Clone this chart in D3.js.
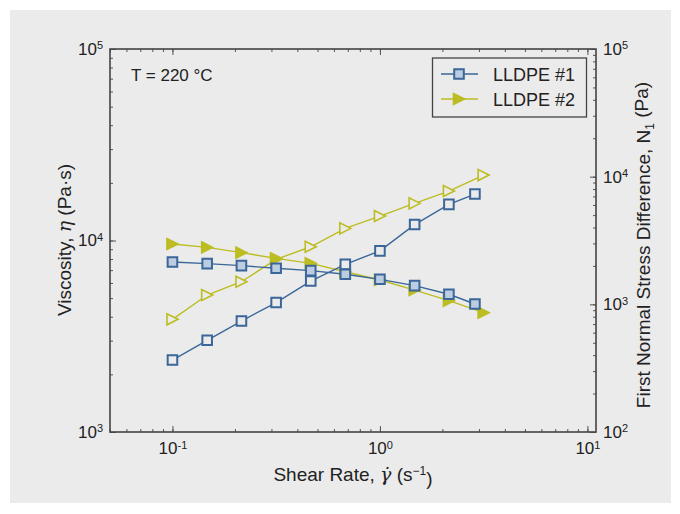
<!DOCTYPE html>
<html>
<head>
<meta charset="utf-8">
<script src="https://cdn.jsdelivr.net/npm/d3@7"></script>
<style>
  body { margin: 0; background: #fff; }
  svg { display: block; font-family: 'Liberation Sans', Arial, sans-serif; }
</style>
</head>
<body>
<svg id="chart" width="680" height="514"></svg>
<script>
// shear rates (1/s)
const rate1 = [0.1, 0.147, 0.215, 0.316, 0.464, 0.681, 1.0, 1.47, 2.15, 2.87]
const rate2 = [0.1, 0.147, 0.215, 0.316, 0.464, 0.681, 1.0, 1.47, 2.15, 3.16]
// viscosity (Pa.s), left axis
const eta1 = [7720, 7570, 7390, 7160, 6960, 6660, 6270, 5810, 5240, 4660]
const eta2 = [9590, 9210, 8640, 8070, 7600, 6870, 6220, 5510, 4850, 4200]
// first normal stress difference (Pa), right axis
const n1First = [366, 523, 740, 1033, 1522, 2057, 2624, 4215, 6069, 7306]
const n1Second = [763, 1183, 1503, 2251, 2825, 3937, 4914, 6180, 7713, 10290]

const seriesNames = ['LLDPE #1', 'LLDPE #2']
const xTicks = [0.1, 1, 10]
const yLeftTicks = [1e3, 1e4, 1e5]
const yRightTicks = [1e2, 1e3, 1e4, 1e5]

const BLUE = '#3b6699'
const BLUE_FILL = '#bccde2'
const YELLOW = '#bcbd22'
const BG = '#ebebeb'
const INK = '#222'

const svg = d3.select('#chart')
const plotLeft = 110, plotRight = 596, plotTop = 49, plotBottom = 432

svg.append('rect')
  .attr('x', 10).attr('y', 10)
  .attr('width', 661).attr('height', 493)
  .attr('fill', BG)

const x = d3.scaleLog().domain([0.05, 11]).range([plotLeft, plotRight])
const yL = d3.scaleLog().domain([1e3, 1e5]).range([plotBottom, plotTop])
const yR = d3.scaleLog().domain([1e2, 1e5]).range([plotBottom, plotTop])

// all 1..9 ticks inside a domain
function minorTicks(domain) {
  const out = []
  for (let e = -3; e <= 6; e++) {
    for (let m = 1; m <= 9; m++) {
      const v = m * Math.pow(10, e)
      if (v >= domain[0] * 0.999 && v <= domain[1] * 1.001) out.push(v)
    }
  }
  return out
}

function powerLabel(sel) {
  sel.each(function (d) {
    const t = d3.select(this)
    t.text(null)
    t.append('tspan').text('10')
    t.append('tspan')
      .attr('dy', '-0.5em')
      .attr('font-size', '11px')
      .text(Math.round(Math.log10(d)))
  })
}

function drawAxis(axisFn, scale, majors, transform, labelOpts) {
  const minor = svg.append('g')
    .attr('transform', transform)
    .call(axisFn(scale).tickValues(minorTicks(scale.domain())).tickSize(-3).tickFormat(''))
  minor.select('.domain').remove()
  minor.selectAll('line').attr('stroke', '#555')

  const major = svg.append('g')
    .attr('transform', transform)
    .call(axisFn(scale).tickValues(majors).tickSize(-6).tickPadding(labelOpts ? labelOpts.pad : 0)
      .tickFormat(labelOpts ? (d) => d : ''))
  major.select('.domain').remove()
  major.selectAll('line').attr('stroke', '#555')
  if (labelOpts) {
    major.selectAll('text')
      .attr('font-size', '17px')
      .attr('fill', INK)
      .call(powerLabel)
  }
  return major
}

drawAxis(d3.axisBottom, x, xTicks, `translate(0,${plotBottom})`, { pad: 10 })
drawAxis(d3.axisTop, x, xTicks, `translate(0,${plotTop})`, null)
drawAxis(d3.axisLeft, yL, yLeftTicks, `translate(${plotLeft},0)`, { pad: 7 })
drawAxis(d3.axisRight, yR, yRightTicks, `translate(${plotRight},0)`, { pad: 7 })

// frame
svg.append('rect')
  .attr('x', plotLeft).attr('y', plotTop)
  .attr('width', plotRight - plotLeft).attr('height', plotBottom - plotTop)
  .attr('fill', 'none')
  .attr('stroke', '#444')
  .attr('stroke-width', 1.6)

const triR = 5.5
const triangle = (r) => `M${r},0L${-r},${-r}L${-r},${r}Z`
const square = d3.symbol().type(d3.symbolSquare).size(92)

function plotSeries(xs, ys, yScale, color, kind, fill) {
  const pts = xs.map((v, i) => [x(v), yScale(ys[i])])
  const g = svg.append('g')
  g.append('path')
    .attr('d', d3.line()(pts))
    .attr('fill', 'none')
    .attr('stroke', color)
    .attr('stroke-width', 1.4)
  g.selectAll('path.marker')
    .data(pts)
    .join('path')
    .attr('class', 'marker')
    .attr('transform', (d) => `translate(${d[0]},${d[1]})`)
    .attr('d', kind === 'square' ? square() : triangle(triR))
    .attr('fill', fill)
    .attr('stroke', color)
    .attr('stroke-width', kind === 'square' ? 2 : 1.6)
    .attr('stroke-linejoin', 'miter')
}

plotSeries(rate2, n1Second, yR, YELLOW, 'triangle', BG)
plotSeries(rate2, eta2, yL, YELLOW, 'triangle', YELLOW)
plotSeries(rate1, n1First, yR, BLUE, 'square', BG)
plotSeries(rate1, eta1, yL, BLUE, 'square', BLUE_FILL)

// annotation
svg.append('text')
  .attr('x', 131).attr('y', 81)
  .attr('font-size', '17px')
  .attr('fill', INK)
  .text('T = 220 °C')

// legend
const legend = svg.append('g')
legend.append('rect')
  .attr('x', 432.5).attr('y', 58)
  .attr('width', 154).attr('height', 59)
  .attr('fill', BG)
  .attr('stroke', '#444')
  .attr('stroke-width', 1.3)
const legendRows = [
  { name: seriesNames[0], color: BLUE, kind: 'square', fill: BLUE_FILL, y: 74 },
  { name: seriesNames[1], color: YELLOW, kind: 'triangle', fill: YELLOW, y: 99 }
]
legendRows.forEach((r) => {
  legend.append('line')
    .attr('x1', 441).attr('x2', 478)
    .attr('y1', r.y).attr('y2', r.y)
    .attr('stroke', r.color)
    .attr('stroke-width', 1.4)
  legend.append('path')
    .attr('transform', `translate(459,${r.y})`)
    .attr('d', r.kind === 'square' ? square() : triangle(triR))
    .attr('fill', r.fill)
    .attr('stroke', r.color)
    .attr('stroke-width', r.kind === 'square' ? 2 : 1.6)
  legend.append('text')
    .attr('x', 493).attr('y', r.y + 6.5)
    .attr('font-size', '18px')
    .attr('fill', INK)
    .text(r.name)
})

// axis titles
const xTitle = svg.append('text')
  .attr('x', 353).attr('y', 481)
  .attr('text-anchor', 'middle')
  .attr('font-size', '19px')
  .attr('fill', INK)
xTitle.append('tspan').text('Shear Rate, ')
xTitle.append('tspan').attr('font-family', 'DejaVu Serif').attr('font-style', 'italic').text('γ̇')
xTitle.append('tspan').text(' (s')
xTitle.append('tspan').attr('dy', '-0.5em').attr('font-size', '12px').text('−1')
xTitle.append('tspan').attr('dy', '0.5em').text(')')

const yTitle = svg.append('text')
  .attr('transform', 'translate(71,240) rotate(-90)')
  .attr('text-anchor', 'middle')
  .attr('font-size', '19px')
  .attr('fill', INK)
yTitle.append('tspan').text('Viscosity, ')
yTitle.append('tspan').attr('font-family', 'DejaVu Serif').attr('font-style', 'italic').text('η')
yTitle.append('tspan').text(' (Pa·s)')

const rTitle = svg.append('text')
  .attr('transform', 'translate(650,245) rotate(-90)')
  .attr('text-anchor', 'middle')
  .attr('font-size', '19px')
  .attr('fill', INK)
rTitle.append('tspan').text('First Normal Stress Difference, N')
rTitle.append('tspan').attr('dy', '0.3em').attr('font-size', '12px').text('1')
rTitle.append('tspan').attr('dy', '-0.3em').text(' (Pa)')
</script>
</body>
</html>
